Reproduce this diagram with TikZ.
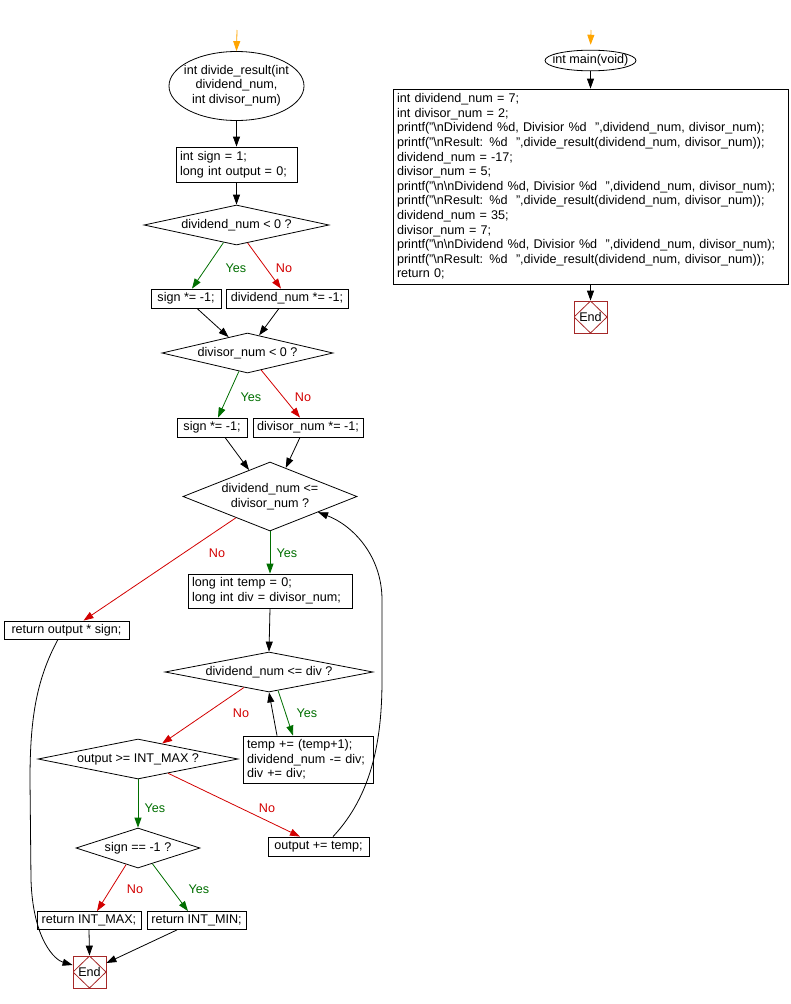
\documentclass[tikz,border=0pt]{standalone}
\usepackage{fontspec}
\setmainfont{Liberation Sans}
\usetikzlibrary{arrows.meta,shapes.geometric,calc}
\definecolor{ygreen}{RGB}{0,110,0}
\definecolor{nred}{RGB}{210,0,0}
\definecolor{endred}{RGB}{165,40,40}
\definecolor{startor}{RGB}{255,165,0}
\newcommand\fs{\fontsize{12.6}{14.6}\selectfont}
\newcommand\zb[1]{\makebox[0pt]{\begin{tabular}{@{}c@{}}#1\end{tabular}}}
\tikzset{
  box/.style={draw, rectangle, inner sep=0pt, align=center},
  cbox/.style={draw, rectangle, inner xsep=4pt, inner ysep=0pt, align=left},
  dec/.style={draw, diamond, inner sep=0pt, align=center},
  term/.style={draw, ellipse, inner sep=0pt},
  endbox/.style={draw=endred, rectangle, minimum width=33, minimum height=32, inner sep=0pt,
    path picture={\draw[endred, line width=0.8pt] (path picture bounding box.north) -- (path picture bounding box.east) -- (path picture bounding box.south) -- (path picture bounding box.west) -- cycle;}},
  arr/.style={draw=black, -{Triangle[length=10pt,width=7pt]}},
  yarr/.style={draw=ygreen, -{Triangle[length=10pt,width=7pt]}},
  narr/.style={draw=nred, -{Triangle[length=10pt,width=7pt]}},
  oarr/.style={draw=startor, -{Triangle[length=10pt,width=7pt]}},
  ylab/.style={text=ygreen, inner sep=0pt},
  nlab/.style={text=nred, inner sep=0pt},
}
\begin{document}
\begin{tikzpicture}[x=1pt, y=-1pt, font=\fs, line width=0.8pt]
\useasboundingbox (0,0) rectangle (790,1004);
% ---------- left flowchart ----------
\coordinate (o1) at (237,30);
\node[term, minimum width=135, minimum height=69] (f1) at (236.5,86) {\zb{int divide\_result(int\\dividend\_num,\\int divisor\_num)}};
\node[cbox, text width=113, minimum height=35] (b1) at (236.5,164.5) {int sign = 1;\\long int output = 0;};
\node[dec, aspect=4.625, minimum width=185, minimum height=40] (d1) at (236.5,225) {dividend\_num < 0 ?};
\node[box, minimum width=70, minimum height=19] (s1) at (186,298.5) {sign *= -1;};
\node[box, minimum width=122, minimum height=19] (dn1) at (287,298.5) {dividend\_num *= -1;};
\node[dec, aspect=4.275, minimum width=171, minimum height=40] (d2) at (247.5,353) {divisor\_num < 0 ?};
\node[box, minimum width=70, minimum height=19] (s2) at (212,427.5) {sign *= -1;};
\node[box, minimum width=110, minimum height=19] (dv2) at (308,427.5) {divisor\_num *= -1;};
\node[dec, aspect=2.52, minimum width=174, minimum height=69] (d3) at (270,496.5) {dividend\_num <=\\divisor\_num ?};
\node[box, minimum width=125, minimum height=18] (ro) at (66.5,630) {return output * sign;};
\node[cbox, text width=156, minimum height=34] (lt) at (270,591) {long int temp = 0;\\long int div = divisor\_num;};
\node[dec, aspect=5.2, minimum width=208, minimum height=40] (d4) at (269,672) {dividend\_num <= div ?};
\node[cbox, text width=122, minimum height=47] (tb) at (308,759.5) {temp += (temp+1);\\dividend\_num -= div;\\div += div;};
\node[dec, aspect=5, minimum width=200, minimum height=40] (d5) at (138,759) {output >= INT\_MAX ?};
\node[box, minimum width=101, minimum height=19] (ot) at (318.5,846.5) {output += temp;};
\node[dec, aspect=3.1, minimum width=124, minimum height=40] (d6) at (138,848) {sign == -1 ?};
\node[box, minimum width=104, minimum height=18] (rm) at (89,920.5) {return INT\_MAX;};
\node[box, minimum width=99, minimum height=18] (rn) at (196.5,920.5) {return INT\_MIN;};
\node[endbox] (e1) at (89.5,972) {End};
% labels
\node[ylab] (l1y) at (236,268) {Yes};
\node[nlab] (l1n) at (284,268) {No};
\node[ylab] (l2y) at (251,397) {Yes};
\node[nlab] (l2n) at (303,397) {No};
\node[nlab] (l3n) at (217,553) {No};
\node[ylab] (l3y) at (287,553) {Yes};
\node[ylab] (l4y) at (307,713) {Yes};
\node[nlab] (l4n) at (241,713) {No};
\node[ylab] (l5y) at (155,808) {Yes};
\node[nlab] (l5n) at (267,808) {No};
\node[nlab] (l6n) at (135,889) {No};
\node[ylab] (l6y) at (199,889) {Yes};
% connectors
\draw[oarr] (o1) -- (f1.north);
\draw[arr] (f1.south) -- (b1.north);
\draw[arr] (b1.south) -- (d1.north);
\draw[yarr] ($(d1.south)!0.14!(d1.west)$) -- ([xshift=6pt]s1.north);
\draw[narr] ($(d1.south)!0.12!(d1.east)$) -- ([xshift=-6pt]dn1.north);
\draw[arr] ([xshift=11pt]s1.south) -- ($(d2.north)!0.22!(d2.west)$);
\draw[arr] ([xshift=-8pt]dn1.south) -- ($(d2.north)!0.135!(d2.east)$);
\draw[yarr] ($(d2.south)!0.1!(d2.west)$) -- ([xshift=6pt]s2.north);
\draw[narr] ($(d2.south)!0.16!(d2.east)$) -- ([xshift=-8pt]dv2.north);
\draw[arr] ([xshift=13pt]s2.south) -- ($(d3.north)!0.24!(d3.west)$);
\draw[arr] ([xshift=-8pt]dv2.south) -- ($(d3.north)!0.18!(d3.east)$);
\draw[narr] ($(d3.south)!0.39!(d3.west)$) -- ([xshift=17pt]ro.north);
\draw[yarr] (d3.south) -- (lt.north);
\draw[arr] (lt.south) -- (d4.north);
\draw[yarr] ($(d4.south)!0.087!(d4.east)$) -- ([xshift=-15pt]tb.north);
\draw[arr] ([xshift=-31pt]tb.north) -- (d4.south);
\draw[narr] ($(d4.south)!0.24!(d4.west)$) -- ($(d5.north)!0.24!(d5.east)$);
\draw[yarr] (d5.south) -- (d6.north);
\draw[narr] ($(d5.south)!0.3!(d5.east)$) -- ([xshift=-18.5pt]ot.north);
\draw[narr] ($(d6.south)!0.19!(d6.west)$) -- ([xshift=8pt]rm.north);
\draw[yarr] ($(d6.south)!0.23!(d6.east)$) -- ([xshift=-8.5pt]rn.north);
\draw[arr] (rm.south) -- (e1.north);
\draw[arr] ([xshift=-19.5pt]rn.south) -- ([yshift=9pt]e1.east);
\draw[arr] ([xshift=14.5pt]ot.north) .. controls (372,795) and (382,740) .. (382,680) -- (382,600) .. controls (382,555) and (352,525) .. ($(d3.south)!0.55!(d3.east)$);
\draw[arr] ([xshift=-8.5pt]ro.south) .. controls (36,680) and (30,720) .. (30,780) -- (31,880) .. controls (33,940) and (55,960) .. ([yshift=7pt]e1.west);
% ---------- right flowchart ----------
\coordinate (o2) at (591,30);
\node[term, minimum width=91, minimum height=19] (me) at (590.5,60.5) {\zb{int main(void)}};
\node[cbox, text width=387, minimum height=195] (code) at (590.5,186.5) {int dividend\_num = 7;\\
int divisor\_num = 2;\\
printf("\textbackslash nDividend \%d, Divisior \%d\ \ ",dividend\_num, divisor\_num);\\
printf("\textbackslash nResult: \%d\ \ ",divide\_result(dividend\_num, divisor\_num));\\
dividend\_num = -17;\\
divisor\_num = 5;\\
printf("\textbackslash n\textbackslash nDividend \%d, Divisior \%d\ \ ",dividend\_num, divisor\_num);\\
printf("\textbackslash nResult: \%d\ \ ",divide\_result(dividend\_num, divisor\_num));\\
dividend\_num = 35;\\
divisor\_num = 7;\\
printf("\textbackslash n\textbackslash nDividend \%d, Divisior \%d\ \ ",dividend\_num, divisor\_num);\\
printf("\textbackslash nResult: \%d\ \ ",divide\_result(dividend\_num, divisor\_num));\\
return 0;};
\node[endbox] (e2) at (590.5,317) {End};
\draw[oarr, shorten >=5pt] (o2) -- (me.north);
\draw[arr] (me.south) -- (code.north);
\draw[arr] (code.south) -- (e2.north);
\end{tikzpicture}
\end{document}
